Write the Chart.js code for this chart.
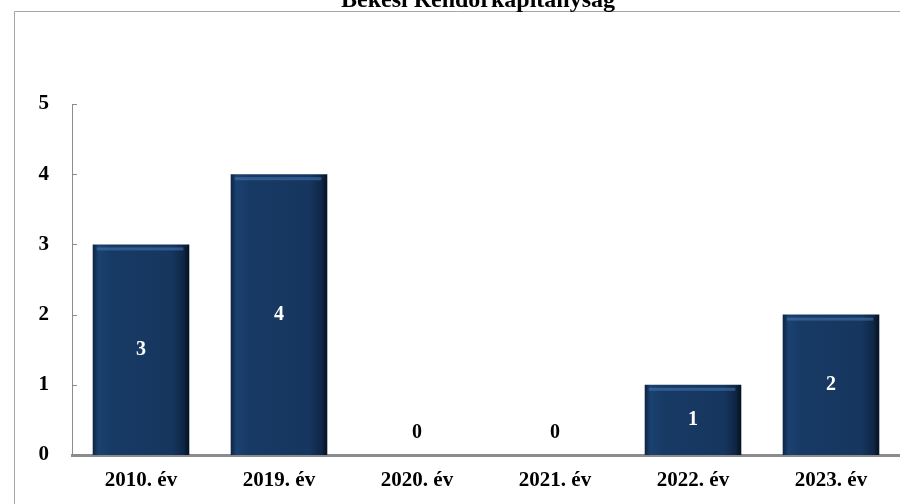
<!DOCTYPE html>
<html>
<head>
<meta charset="utf-8">
<script src="https://cdn.jsdelivr.net/npm/chart.js@4"></script>
<style>
  html, body { margin: 0; padding: 0; background: #ffffff; }
  #wrap { width: 900px; height: 504px; position: relative; }
</style>
</head>
<body>
<div id="wrap"><canvas id="myChart"></canvas></div>
<script>
const chartTitle = 'Békési Rendőrkapitányság';
const years = ['2010. év', '2019. év', '2020. év', '2021. év', '2022. év', '2023. év'];
const cases = [3, 4, 0, 0, 1, 2];
const yTicks = [0, 1, 2, 3, 4, 5];

const serif = '"Liberation Serif", "Times New Roman", serif';
const barRatio = 0.7;

// horizontal shading for each bar, dark edges on both sides
function barFill(ctx) {
  const chart = ctx.chart;
  const xs = chart.scales.x;
  if (!xs || !chart.chartArea) return '#17375f';
  const cx = xs.getPixelForValue(ctx.dataIndex);
  const w = (xs.width / years.length) * barRatio;
  const g = chart.ctx.createLinearGradient(cx - w / 2, 0, cx + w / 2, 0);
  g.addColorStop(0, '#0d2442');
  g.addColorStop(0.06, '#1b4170');
  g.addColorStop(0.2, '#173a64');
  g.addColorStop(0.82, '#16365f');
  g.addColorStop(0.94, '#0f2646');
  g.addColorStop(1, '#06111e');
  return g;
}

const framePlugin = {
  id: 'frame',
  beforeDraw(chart) {
    const c = chart.ctx;
    c.save();
    c.strokeStyle = '#a6a6a6';
    c.lineWidth = 1;
    c.beginPath();
    c.moveTo(14.5, chart.height);
    c.lineTo(14.5, 11.5);
    c.lineTo(chart.width, 11.5);
    c.stroke();
    // title sits on the frame line and runs off the top edge
    c.fillStyle = '#000000';
    c.font = 'bold 24px ' + serif;
    c.textAlign = 'center';
    c.textBaseline = 'alphabetic';
    c.fillText(chartTitle, 478, 7);
    c.restore();
  },
  afterDatasetsDraw(chart) {
    const c = chart.ctx;
    const ys = chart.scales.y;
    const xs = chart.scales.x;
    const meta = chart.getDatasetMeta(0);
    c.save();
    // short inward tick marks on the value axis
    c.strokeStyle = '#8c8c8c';
    c.lineWidth = 1;
    yTicks.forEach(v => {
      const py = Math.round(ys.getPixelForValue(v)) + 0.5;
      c.beginPath();
      c.moveTo(xs.left, py);
      c.lineTo(xs.left + 5, py);
      c.stroke();
    });
    // lighter strip along the top of each bar
    meta.data.forEach((bar, i) => {
      if (cases[i] > 0) {
        c.fillStyle = 'rgba(70, 120, 180, 0.55)';
        c.fillRect(bar.x - bar.width / 2 + 4, bar.y + 3, bar.width - 10, 3);
      }
    });
    // value labels
    c.font = 'bold 20px ' + serif;
    c.textAlign = 'center';
    c.textBaseline = 'middle';
    meta.data.forEach((bar, i) => {
      const v = cases[i];
      if (v > 0) {
        c.fillStyle = '#ffffff';
        c.fillText(String(v), bar.x, (bar.y + bar.base) / 2);
      } else {
        c.fillStyle = '#000000';
        c.fillText(String(v), bar.x, ys.getPixelForValue(0) - 22);
      }
    });
    c.restore();
  }
};

new Chart(document.getElementById('myChart'), {
  type: 'bar',
  data: {
    labels: years,
    datasets: [{
      data: cases,
      backgroundColor: barFill,
      borderWidth: 0,
      categoryPercentage: 1,
      barPercentage: barRatio
    }]
  },
  options: {
    responsive: true,
    maintainAspectRatio: false,
    animation: false,
    devicePixelRatio: 1,
    layout: { padding: { top: 104, left: 14, right: 0, bottom: 0 } },
    plugins: {
      legend: { display: false },
      title: { display: false },
      tooltip: { enabled: false }
    },
    scales: {
      x: {
        grid: { display: false },
        border: { display: true, color: '#8c8c8c', width: 3 },
        ticks: {
          color: '#000000',
          padding: 5,
          font: { family: serif, size: 21, weight: 'bold' }
        },
        afterFit(scale) { scale.height = 49; }
      },
      y: {
        min: 0,
        max: 5,
        grid: { display: false },
        border: { display: true, color: '#8c8c8c', width: 1 },
        ticks: {
          stepSize: 1,
          color: '#000000',
          padding: 15,
          font: { family: serif, size: 21, weight: 'bold' }
        },
        afterFit(scale) { scale.width = 58; }
      }
    }
  },
  plugins: [framePlugin]
});
</script>
</body>
</html>
